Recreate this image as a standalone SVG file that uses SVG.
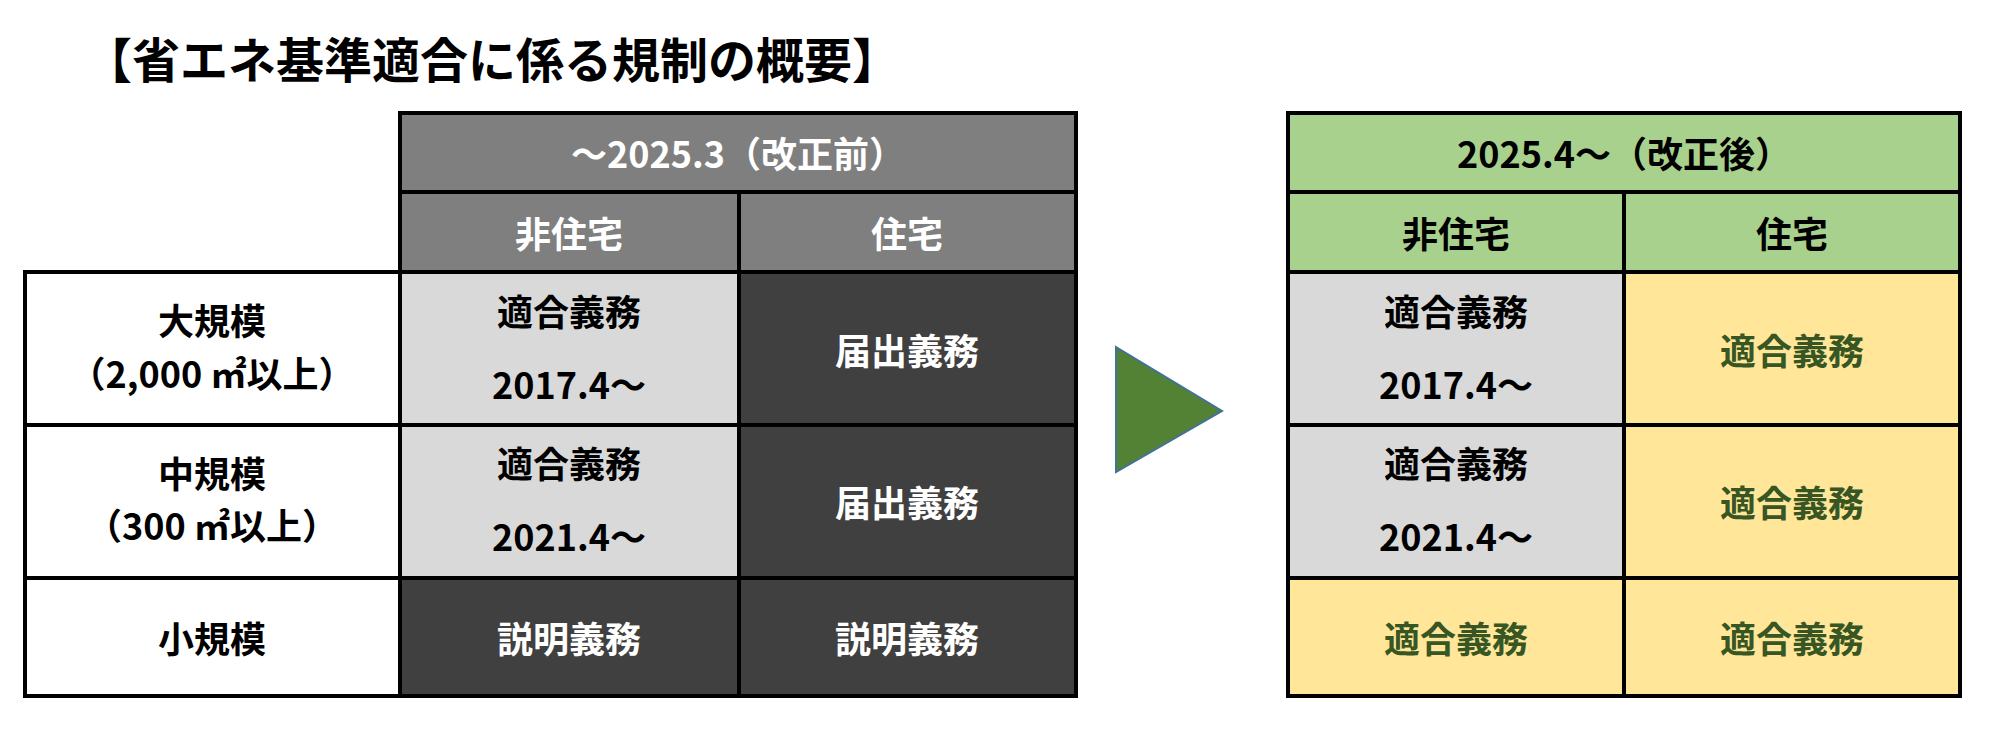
<svg xmlns="http://www.w3.org/2000/svg" width="2000" height="733" viewBox="0 0 2000 733">
<style>
text{font-family:"Noto Sans CJK JP","Liberation Sans",sans-serif;font-weight:bold;text-anchor:middle;dominant-baseline:central;font-size:36px}
.c{stroke:#000;stroke-width:4}
.w{fill:#fff}.k{fill:#000}.g{fill:#375623}
</style>
<rect width="2000" height="733" fill="#fff"/>
<text x="492" y="57" style="font-size:48px" class="k">【省エネ基準適合に係る規制の概要】</text>
<g id="old">
<rect class="c" x="400" y="113" width="676" height="79" fill="#7f7f7f"/>
<rect class="c" x="400" y="192" width="339" height="80" fill="#7f7f7f"/>
<rect class="c" x="739" y="192" width="337" height="80" fill="#7f7f7f"/>
<rect class="c" x="25" y="272" width="375" height="153" fill="#fff"/>
<rect class="c" x="25" y="425" width="375" height="153" fill="#fff"/>
<rect class="c" x="25" y="578" width="375" height="118" fill="#fff"/>
<rect class="c" x="400" y="272" width="339" height="153" fill="#d9d9d9"/>
<rect class="c" x="400" y="425" width="339" height="153" fill="#d9d9d9"/>
<rect class="c" x="400" y="578" width="339" height="118" fill="#404040"/>
<rect class="c" x="739" y="272" width="337" height="153" fill="#404040"/>
<rect class="c" x="739" y="425" width="337" height="153" fill="#404040"/>
<rect class="c" x="739" y="578" width="337" height="118" fill="#404040"/>
<text x="738" y="152" class="w">～2025.3（改正前）</text>
<text x="569" y="232" class="w">非住宅</text>
<text x="907" y="232" class="w">住宅</text>
<text x="212" y="319" class="k">大規模</text>
<text x="212" y="372" class="k">（2,000 ㎡以上）</text>
<text x="212" y="472" class="k">中規模</text>
<text x="212" y="524" class="k">（300 ㎡以上）</text>
<text x="212" y="637" class="k">小規模</text>
<text x="569" y="310" class="k">適合義務</text>
<text x="569" y="383" class="k">2017.4～</text>
<text x="569" y="462" class="k">適合義務</text>
<text x="569" y="535" class="k">2021.4～</text>
<text x="569" y="637" class="w">説明義務</text>
<text x="907" y="349" class="w">届出義務</text>
<text x="907" y="501" class="w">届出義務</text>
<text x="907" y="637" class="w">説明義務</text>
</g>
<g id="arrow"><polygon points="1116,347 1222,411 1116,472" fill="#548235" stroke="#41719c" stroke-width="2"/></g>
<g id="new">
<rect class="c" x="1288" y="113" width="672" height="79" fill="#a9d18e"/>
<rect class="c" x="1288" y="192" width="336" height="80" fill="#a9d18e"/>
<rect class="c" x="1624" y="192" width="336" height="80" fill="#a9d18e"/>
<rect class="c" x="1288" y="272" width="336" height="153" fill="#d9d9d9"/>
<rect class="c" x="1288" y="425" width="336" height="153" fill="#d9d9d9"/>
<rect class="c" x="1288" y="578" width="336" height="118" fill="#ffe699"/>
<rect class="c" x="1624" y="272" width="336" height="153" fill="#ffe699"/>
<rect class="c" x="1624" y="425" width="336" height="153" fill="#ffe699"/>
<rect class="c" x="1624" y="578" width="336" height="118" fill="#ffe699"/>
<text x="1624" y="152" class="k">2025.4～（改正後）</text>
<text x="1456" y="232" class="k">非住宅</text>
<text x="1792" y="232" class="k">住宅</text>
<text x="1456" y="310" class="k">適合義務</text>
<text x="1456" y="383" class="k">2017.4～</text>
<text x="1456" y="462" class="k">適合義務</text>
<text x="1456" y="535" class="k">2021.4～</text>
<text x="1456" y="637" class="g">適合義務</text>
<text x="1792" y="349" class="g">適合義務</text>
<text x="1792" y="501" class="g">適合義務</text>
<text x="1792" y="637" class="g">適合義務</text>
</g>
</svg>
